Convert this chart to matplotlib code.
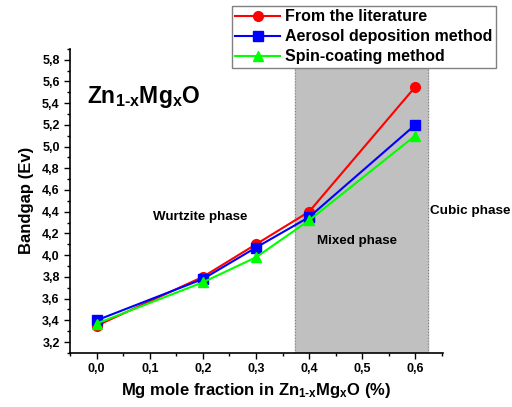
import numpy as np
import matplotlib.pyplot as plt

plt.rcParams['font.family'] = 'Liberation Sans'
plt.rcParams['font.weight'] = 'bold'
plt.rcParams['mathtext.fontset'] = 'custom'
plt.rcParams['mathtext.rm'] = 'Liberation Sans:bold'
plt.rcParams['mathtext.it'] = 'Liberation Sans:bold'
plt.rcParams['mathtext.bf'] = 'Liberation Sans:bold'

# Data
mg_fraction = [0.0, 0.2, 0.3, 0.4, 0.6]
literature = [3.35, 3.80, 4.10, 4.40, 5.55]
aerosol = [3.40, 3.78, 4.07, 4.35, 5.20]
spin_coating = [3.37, 3.75, 3.98, 4.32, 5.10]
mixed_start, mixed_end = 0.374, 0.624

fig = plt.figure(figsize=(5.12, 4.07), dpi=100)
ax = fig.add_axes([0.137, 0.133, 0.728, 0.747])

# mixed phase region
ax.axvspan(mixed_start, mixed_end, color="#c0c0c0", zorder=0)
ax.axvline(mixed_start, color="gray", linestyle=":", linewidth=0.8, zorder=1)
ax.axvline(mixed_end, color="gray", linestyle=":", linewidth=0.8, zorder=1)

ax.plot(mg_fraction, literature, "-o", color="#ff0000", markersize=7, linewidth=1.5, label="From the literature", zorder=3)
ax.plot(mg_fraction, aerosol, "-s", color="#0000ff", markersize=6.5, linewidth=1.5, label="Aerosol deposition method", zorder=4)
ax.plot(mg_fraction, spin_coating, "-^", color="#00ff00", markersize=7, linewidth=1.5, label="Spin-coating method", zorder=5)

ax.set_xlim(-0.05, 0.652)
ax.set_ylim(3.1, 5.9)
ax.set_xticks(np.arange(0, 0.61, 0.1))
ax.set_xticks(np.arange(-0.05, 0.66, 0.05), minor=True)
ax.set_yticks(np.arange(3.2, 5.81, 0.2))
ax.set_yticks(np.arange(3.1, 5.91, 0.1), minor=True)
ax.set_xticklabels([f"{v:.1f}".replace(".", ",") for v in np.arange(0, 0.61, 0.1)])
ax.set_yticklabels([f"{v:.1f}".replace(".", ",") for v in np.arange(3.2, 5.81, 0.2)])
ax.tick_params(which="major", direction="out", length=4, width=1, labelsize=9)
ax.tick_params(which="minor", direction="out", length=2.5, width=1)

ax.spines["top"].set_visible(False)
ax.spines["right"].set_visible(False)
for s in ["left", "bottom"]:
    ax.spines[s].set_linewidth(1.2)

ax.set_xlabel(r"Mg mole fraction in Zn$_{\text{1-x}}$Mg$_x$O (%)", fontsize=12, fontweight="bold", labelpad=4)
ax.set_ylabel("Bandgap (Ev)", fontsize=12, fontweight="bold", labelpad=6)

ax.text(-0.018, 5.46, r"Zn$_{\text{1-x}}$Mg$_x$O", fontsize=16.5, fontweight="bold", va="center", ha="left")
ax.text(0.195, 4.35, "Wurtzite phase", fontsize=9.6, fontweight="bold", ha="center", va="center")
ax.text(0.49, 4.13, "Mixed phase", fontsize=9.6, fontweight="bold", ha="center", va="center")
ax.text(0.628, 4.41, "Cubic phase", fontsize=9.7, fontweight="bold", ha="left", va="center", clip_on=False)

leg = ax.legend(loc="upper left", bbox_to_anchor=(0.453, 0.986), bbox_transform=fig.transFigure,
                fontsize=11.5, fancybox=False, framealpha=1, edgecolor="gray",
                borderpad=0.22, labelspacing=0.32, handlelength=2.8, handletextpad=0.3,
                borderaxespad=0)
leg.set_zorder(10)

fig.savefig("out.png", dpi=100)
